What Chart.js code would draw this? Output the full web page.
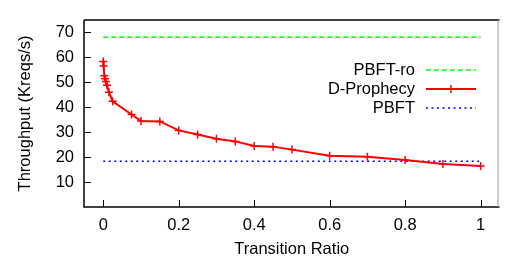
<html><head><meta charset="UTF-8">
<title>Throughput vs Transition Ratio</title>
<script src="https://cdn.jsdelivr.net/npm/chart.js"></script>
<style>
body { margin: 0; background: #fff; }
.wrap { width: 505px; height: 266px; position: relative; }
</style>
</head>
<body>
<div class="wrap"><canvas id="ratioChart"></canvas></div>
<script>
// data
const ratios = [0, 0.001, 0.003, 0.005, 0.007, 0.01, 0.015, 0.025, 0.075, 0.1, 0.15, 0.2, 0.25, 0.3, 0.35, 0.4, 0.45, 0.5, 0.6, 0.7, 0.8, 0.9, 1.0];
const prophecy = [58.3, 56.5, 52.6, 51.4, 50.3, 48.8, 46.0, 42.4, 37.1, 34.5, 34.3, 30.7, 29.1, 27.4, 26.3, 24.5, 24.2, 23.0, 20.5, 20.1, 18.8, 17.2, 16.4];
const flatX = [0, 1];
const pbftRo = [68, 68];
const pbft = [18.3, 18.3];
const xTicks = [0, 0.2, 0.4, 0.6, 0.8, 1];
const yTicks = [10, 20, 30, 40, 50, 60, 70];

const FONT = "'Liberation Sans', Arial, sans-serif";
const FSIZE = 16.5;

const pts = (xs, ys) => xs.map((x, i) => ({ x: x, y: ys[i] }));

// frame, inward tick marks and in-plot legend
const framePlugin = {
  id: 'frame',
  afterDatasetsDraw(chart) {
    const ctx = chart.ctx;
    const a = chart.chartArea;
    const xs = chart.scales.x, ys = chart.scales.y;
    ctx.save();
    ctx.strokeStyle = '#000';
    ctx.lineWidth = 1.5;
    ctx.beginPath();
    ctx.moveTo(a.left, a.top); ctx.lineTo(a.right, a.top);
    ctx.moveTo(a.left, a.top); ctx.lineTo(a.left, a.bottom); ctx.lineTo(a.right, a.bottom);
    ctx.stroke();
    ctx.strokeStyle = '#999';
    ctx.lineWidth = 1;
    ctx.beginPath();
    ctx.moveTo(a.right - 1.5, a.top); ctx.lineTo(a.right - 1.5, a.bottom);
    ctx.stroke();

    ctx.strokeStyle = '#000';
    ctx.lineWidth = 1;
    ctx.beginPath();
    yTicks.forEach(v => {
      const y = Math.round(ys.getPixelForValue(v)) + 0.5;
      ctx.moveTo(a.left, y); ctx.lineTo(a.left + 7, y);
    });
    xTicks.forEach(v => {
      const x = Math.round(xs.getPixelForValue(v)) + 0.5;
      ctx.moveTo(x, a.bottom); ctx.lineTo(x, a.bottom - 7);
    });
    ctx.stroke();

    // legend
    const rows = chart.data.datasets;
    const textRight = 415, lx0 = 426, lx1 = 476;
    const rowY = [70, 89, 108];
    ctx.font = FSIZE + 'px ' + FONT;
    ctx.textAlign = 'right';
    ctx.textBaseline = 'middle';
    ctx.fillStyle = '#000';
    [0, 1, 2].forEach(i => {
      const ds = rows[i];
      const y = rowY[i];
      ctx.fillText(ds.label, textRight, y);
      ctx.strokeStyle = ds.borderColor;
      ctx.lineWidth = ds.borderWidth;
      ctx.setLineDash(ds.borderDash || []);
      ctx.beginPath();
      ctx.moveTo(lx0, y); ctx.lineTo(lx1, y);
      ctx.stroke();
      ctx.setLineDash([]);
      if (ds.pointStyle === 'cross') {
        const cx = (lx0 + lx1) / 2;
        ctx.lineWidth = 1.5;
        ctx.beginPath();
        ctx.moveTo(cx - 4, y); ctx.lineTo(cx + 4, y);
        ctx.moveTo(cx, y - 4); ctx.lineTo(cx, y + 4);
        ctx.stroke();
      }
    });
    ctx.restore();
  }
};

new Chart(document.getElementById('ratioChart'), {
  type: 'line',
  data: {
    datasets: [
      {
        label: 'PBFT-ro',
        data: pts(flatX, pbftRo),
        borderColor: '#00ff00',
        borderWidth: 1.5,
        borderDash: [5, 3],
        pointRadius: 0
      },
      {
        label: 'D-Prophecy',
        data: pts(ratios, prophecy),
        borderColor: '#ff0000',
        borderWidth: 2,
        pointStyle: 'cross',
        pointRadius: 4,
        pointBorderWidth: 1.5,
        pointBorderColor: '#ff0000',
        tension: 0
      },
      {
        label: 'PBFT',
        data: pts(flatX, pbft),
        borderColor: '#0000ff',
        borderWidth: 1.5,
        borderDash: [2, 3.5],
        pointRadius: 0
      }
    ]
  },
  options: {
    responsive: true,
    maintainAspectRatio: false,
    animation: false,
    layout: { padding: { top: 1, right: 1, left: 0, bottom: 0 } },
    plugins: { legend: { display: false }, tooltip: { enabled: false } },
    scales: {
      x: {
        type: 'linear',
        min: -0.051,
        max: 1.05,
        grid: { display: false, drawTicks: false },
        border: { display: false },
        afterBuildTicks: s => { s.ticks = xTicks.map(v => ({ value: v })); },
        afterFit: s => { s.height = 59; },
        ticks: { color: '#000', padding: 9, maxRotation: 0, font: { family: FONT, size: FSIZE }, callback: v => String(v) },
        title: { display: true, text: 'Transition Ratio', color: '#000', padding: { top: 0, bottom: 7 }, font: { family: FONT, size: FSIZE } }
      },
      y: {
        min: 0,
        max: 75,
        grid: { display: false, drawTicks: false },
        border: { display: false },
        afterBuildTicks: s => { s.ticks = yTicks.map(v => ({ value: v })); },
        afterFit: s => { s.width = 84; },
        ticks: { color: '#000', padding: 10, font: { family: FONT, size: FSIZE } },
        title: { display: true, text: 'Throughput (Kreqs/s)', color: '#000', padding: { top: 16, bottom: 0 }, font: { family: FONT, size: FSIZE } }
      }
    }
  },
  plugins: [framePlugin]
});
</script>
</body></html>
